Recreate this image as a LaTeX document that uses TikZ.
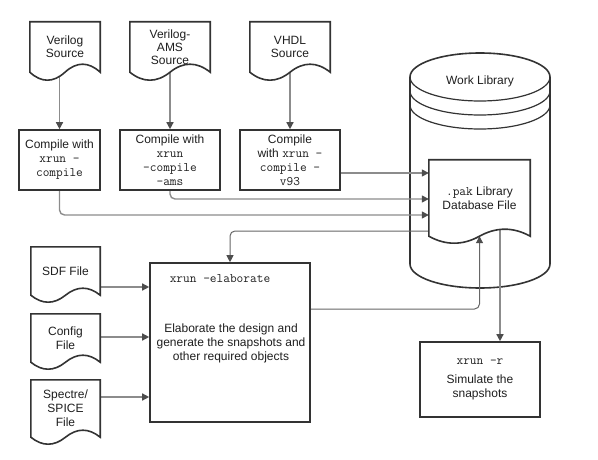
\documentclass[tikz,border=0pt]{standalone}
\usepackage{fontspec}
\setmainfont{Liberation Sans}
\usetikzlibrary{arrows.meta,calc}
\pgfdeclarelayer{cyl}\pgfdeclarelayer{conn}\pgfdeclarelayer{shapes}
\pgfsetlayers{cyl,conn,shapes,main}
\definecolor{linec}{HTML}{333333}
\definecolor{connc}{HTML}{8C8C8C}
\definecolor{conntwo}{HTML}{666666}
\definecolor{tipc}{HTML}{4D4D4D}
\definecolor{txtc}{HTML}{1F1F1F}
\newcommand\cmd[1]{{\ttfamily\fontsize{13}{14}\selectfont #1}}
\newcommand\docoutline[3]{%
  \begin{pgfonlayer}{shapes}
  \draw[shapeline] (#1.north west) -- (#1.north east) -- (#1.south east)
    .. controls +(-#2/6,-4*#3/3) and +(#2/6,-4*#3/3) .. (#1.south)
    .. controls +(-#2/6,4*#3/3) and +(#2/6,4*#3/3) .. (#1.south west) -- cycle;
  \end{pgfonlayer}}
\begin{document}
\begin{tikzpicture}[x=1pt,y=-1pt,
  every node/.style={text=txtc, font=\fontsize{12}{14}\selectfont, align=center, inner sep=0pt},
  topdoc/.style={font=\fontsize{12}{13}\selectfont, minimum width=#1, minimum height=50},
  ldoc/.style={minimum width=69},
  box/.style={draw=linec, line width=1.6pt, fill=white},
  shapeline/.style={draw=linec, line width=1.6pt, fill=white},
  conn/.style={draw=connc, line width=1.4pt, -{Triangle[length=7pt,width=7pt,color=tipc]}},
  conntw/.style={draw=conntwo, line width=1pt, rounded corners=5pt, -{Triangle[length=7pt,width=7pt,color=tipc]}}]
\useasboundingbox (0,0) rectangle (598,460);

% helper coordinates
\coordinate (y173) at (0,173);
\coordinate (y199) at (0,199);
\coordinate (y215) at (0,215);
\coordinate (y231) at (0,231);
\coordinate (y309) at (0,309);
\coordinate (y287) at (0,287);
\coordinate (y337) at (0,337);
\coordinate (y397) at (0,397);
\coordinate (x500) at (500,0);

% cylinder (work library)
\begin{pgfonlayer}{cyl}
\draw[shapeline] (410,77) -- (410,264) arc[start angle=180, end angle=360, x radius=70pt, y radius=24pt]
  -- (550,77) arc[start angle=0, end angle=180, x radius=70pt, y radius=24pt] -- cycle;
\draw[draw=linec, line width=1.2pt] (410,77) arc[start angle=180, end angle=360, x radius=70pt, y radius=24pt];
\draw[draw=linec, line width=1.2pt] (410,91) arc[start angle=180, end angle=360, x radius=70pt, y radius=24pt];
\draw[draw=linec, line width=1.2pt] (410,105) arc[start angle=180, end angle=360, x radius=70pt, y radius=24pt];
\end{pgfonlayer}
\node (wl) at (480,81) {Work Library};

% top documents
\node[topdoc=70] (vsrc) at (65,47) {Verilog\\Source};
\node[topdoc=80] (vams) at (170,47) {Verilog-\\AMS\\Source};
\node[topdoc=80] (vhdl) at (290,47) {VHDL\\Source};
\docoutline{vsrc}{70}{8}
\docoutline{vams}{80}{8}
\docoutline{vhdl}{80}{8}

% compile boxes
\node[box, minimum width=81, minimum height=60] (c1) at (59.5,160) {Compile with\\\cmd{xrun -}\\\cmd{compile}};
\node[box, minimum width=100, minimum height=60] (c2) at (170,160) {Compile with\\\cmd{xrun}\\\cmd{-compile}\\\cmd{-ams}};
\node[box, minimum width=100, minimum height=60] (c3) at (290,160) {Compile\\with \cmd{xrun -}\\\cmd{compile -}\\\cmd{v93}};

% pak library database file
\node[minimum width=101, minimum height=76] (pak) at (479.5,198) {\cmd{.pak} Library\\Database File};
\docoutline{pak}{101}{7}

% left documents
\node[ldoc, minimum height=48] (sdf) at (65.5,271) {SDF File};
\node[ldoc, minimum height=48] (cfg) at (65.5,338) {Config\\File};
\node[ldoc, minimum height=57] (spice) at (65.5,408.5) {Spectre/\\SPICE\\File};
\docoutline{sdf}{69}{7}
\docoutline{cfg}{69}{7}
\docoutline{spice}{69}{7}

% elaborate box
\node[box, minimum width=160, minimum height=159] (elab) at (230,342.5) {};
\node (elabcmd) at (220,279) {\cmd{xrun -elaborate}};
\node (elabtxt) at (231,343) {Elaborate the design and\\generate the snapshots and\\other required objects};

% simulate box
\node[box, minimum width=120, minimum height=75] (sim) at (480,379.5) {\cmd{xrun -r}\\[5pt]Simulate the\\snapshots};

% connectors
\begin{pgfonlayer}{conn}
\draw[conn] (vsrc.center -| c1.north) -- (c1.north);
\draw[conn] (vams.center) -- (c2.north);
\draw[conn] (vhdl.center) -- (c3.north);
\draw[conn, rounded corners=5pt] (c1.south) |- (pak.west |- y215);
\draw[conn, rounded corners=5pt] (c2.south) |- (pak.west |- y199);
\draw[conn] (c3.east |- y173) -- (pak.west |- y173);
\draw[conntw] (pak.west |- y231) -| (elab.north);
\draw[conntw] (elab.east |- y309) -| (pak.south);
\draw[conn] (pak.center -| x500) -- (sim.north -| x500);
\draw[conn] (sdf.center |- y287) -- (elab.west |- y287);
\draw[conn] (cfg.center |- y337) -- (elab.west |- y337);
\draw[conn] (spice.center |- y397) -- (elab.west |- y397);
\end{pgfonlayer}
\end{tikzpicture}
\end{document}
